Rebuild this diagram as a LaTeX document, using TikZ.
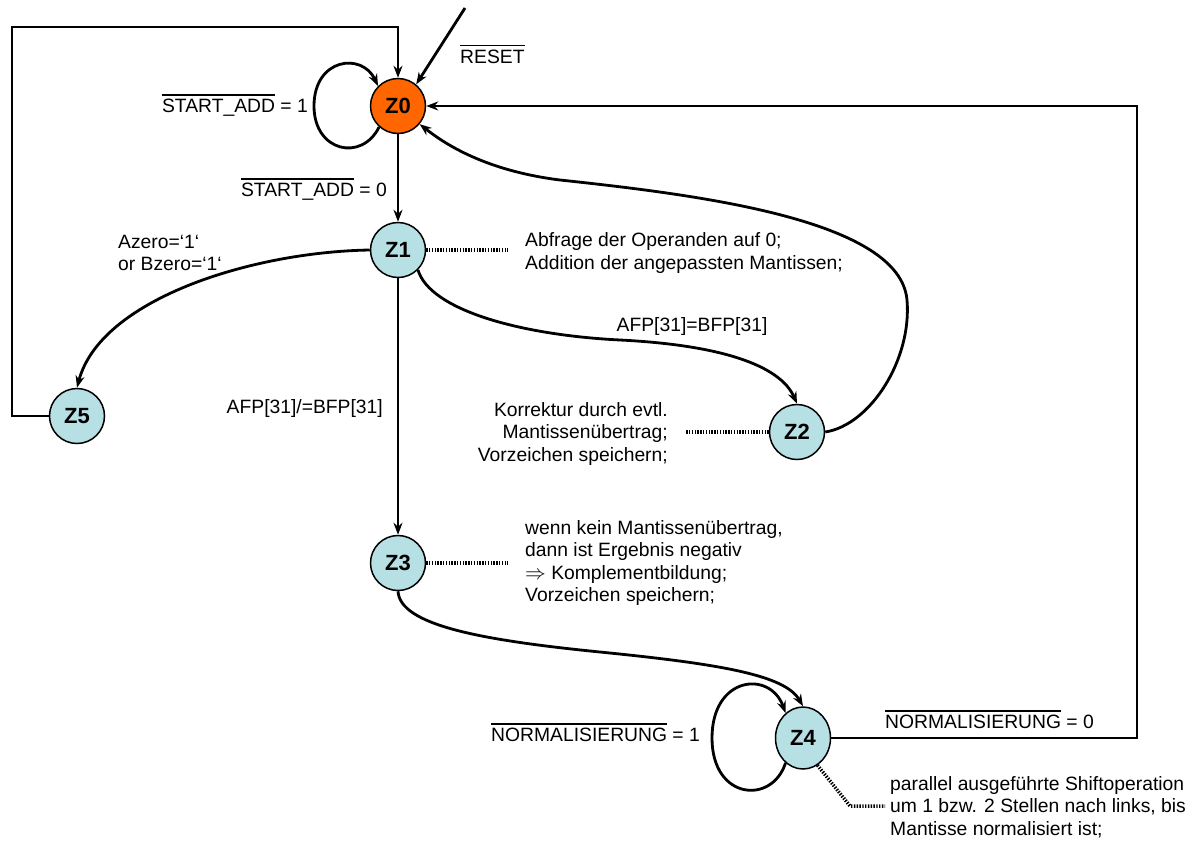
\documentclass[tikz,border=0pt]{standalone}
\usepackage{fontspec}
\setmainfont{Liberation Sans}
\usetikzlibrary{arrows.meta,shapes.geometric}
\definecolor{stblue}{RGB}{183,224,228}
\definecolor{storange}{RGB}{255,102,0}
\newcommand\ovl[1]{\leavevmode\setbox0\hbox{#1}\rlap{\raisebox{\dimexpr\ht0+3.5pt\relax}{\rule{\wd0}{1.2pt}}}\box0\relax}
\begin{document}
\begin{tikzpicture}[x=1pt,y=-1pt,
  state/.style={circle,draw,line width=1.5pt,fill=stblue,minimum size=55pt,inner sep=0pt,font=\fontsize{22}{24}\selectfont\bfseries},
  arr/.style={line width=2.8pt,-{Stealth[length=12pt,width=9pt]}},
  dots/.style={line width=3.5pt,dash pattern=on 1.4pt off 1.4pt},
  lbl/.style={font=\fontsize{19.3}{22.5}\selectfont,inner sep=0pt}]
\useasboundingbox (0,0) rectangle (1201,841);

% states
\node[state,fill=storange] (z0) at (398,106) {Z0};
\node[state] (z1) at (398,250) {Z1};
\node[state] (z2) at (797,432) {Z2};
\node[state] (z3) at (398,563) {Z3};
\node[state,ellipse,minimum width=55pt,minimum height=62pt] (z4) at (803,738) {Z4};
\node[state] (z5) at (77,416) {Z5};

% helper coordinates
\coordinate (rs) at (465,8);
\coordinate (c1) at (12,27);
\coordinate (c2) at (1137,106);
\coordinate (l0) at (314,106);
\coordinate (l4) at (712,738);
\coordinate (m12) at (620,340);
\coordinate (m34) at (600,652);
\coordinate (t20a) at (907,300);
\coordinate (t20b) at (560,180);
\coordinate (d1) at (508,250);
\coordinate (d2) at (685,432);
\coordinate (d3) at (508,563);
\coordinate (d4a) at (850,806);
\coordinate (d4b) at (885,806);

% connectors
\draw[arr] (rs) -- (z0.50);
\draw[arr] (z5.west) -| (c1) -| (z0.north);
\draw[arr] (z0.228) .. controls (362,162) and (314,152) .. (l0) .. controls (314,58) and (362,52) .. (z0.135);
\draw[arr] (z0) -- (z1);
\draw[arr] (z1) -- (z3);
\draw[arr] (z1.west) .. controls (250,252) and (100,300) .. (z5.north);
\draw[arr] (z1.-45) .. controls (430,310) and (520,335) .. (m12) .. controls (720,345) and (780,365) .. (z2.north);
\draw[arr] (z2.east) .. controls (870,425) and (912,360) .. (t20a) .. controls (900,220) and (700,195) .. (t20b) .. controls (480,170) and (440,140) .. (z0.-40);
\draw[arr] (z3.south) .. controls (400,625) and (480,640) .. (m34) .. controls (720,664) and (785,675) .. (z4.north);
\draw[arr] (z4.235) .. controls (772,805) and (712,800) .. (l4) .. controls (712,676) and (770,670) .. (z4.125);
\draw[arr] (z4.east) -| (c2) -- (z0.east);

% dotted annotation links
\draw[dots] (z1.east) -- (d1);
\draw[dots] (z2.west) -- (d2);
\draw[dots] (z3.east) -- (d3);
\draw[dots] (z4.-62) -- (d4a) -- (d4b);

% transition labels
\node[lbl,anchor=base west] (lreset) at (460,63) {\ovl{RESET}};
\node[lbl,anchor=base east] (lsa1) at (308,112.5) {\ovl{START\_ADD} = 1};
\node[lbl,anchor=base east] (lsa0) at (387,196.5) {\ovl{START\_ADD} = 0};
\node[lbl,anchor=west,align=left] (laz) at (118,253) {Azero=‘1‘\\or Bzero=‘1‘};
\node[lbl,anchor=base] (leq) at (692,331.5) {AFP[31]=BFP[31]};
\node[lbl,anchor=base east] (lne) at (383,413.5) {AFP[31]/=BFP[31]};
\node[lbl,anchor=base east] (ln1) at (700,741.5) {\ovl{NORMALISIERUNG} = 1};
\node[lbl,anchor=base west] (ln0) at (885,728.5) {\ovl{NORMALISIERUNG} = 0};

% annotation texts
\node[lbl,anchor=west,align=left] (t1) at (525,253) {Abfrage der Operanden auf 0;\\Addition der angepassten Mantissen;};
\node[lbl,anchor=east,align=right] (t2) at (668,434) {Korrektur durch evtl.\\Mantissenübertrag;\\Vorzeichen speichern;};
\node[lbl,anchor=west,align=left] (t3) at (525,563) {wenn kein Mantissenübertrag,\\dann ist Ergebnis negativ\\$\Rightarrow$ Komplementbildung;\\Vorzeichen speichern;};
\node[lbl,anchor=west,align=left] (t4) at (890,807) {parallel ausgeführte Shiftoperation\\um 1 bzw. 2 Stellen nach links, bis\\Mantisse normalisiert ist;};
\end{tikzpicture}
\end{document}
